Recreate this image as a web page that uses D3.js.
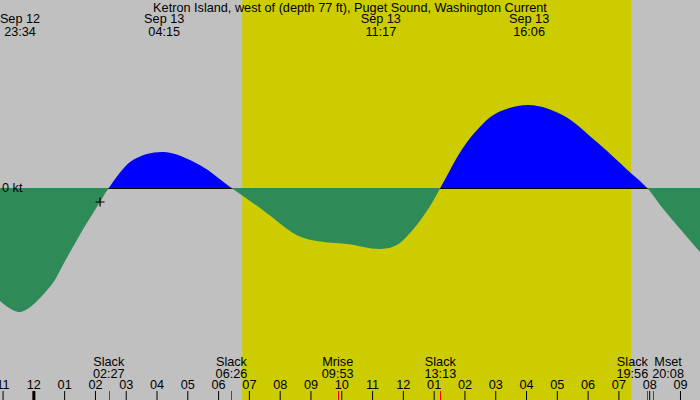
<!DOCTYPE html>
<html>
<head>
<meta charset="utf-8">
<script src="https://cdn.jsdelivr.net/npm/d3@7"></script>
<style>
  body { margin: 0; background: #c0c0c0; }
  svg { display: block; font-family: "Liberation Sans", Arial, sans-serif; font-size: 12.7px; }
</style>
</head>
<body>
<div id="chart"></div>
<script>
// current speed in knots (flood > 0, ebb < 0)
const flowTimes = [
  "2024-09-12 22:55", "2024-09-12 23:34", "2024-09-13 00:32", "2024-09-13 01:05",
  "2024-09-13 01:36", "2024-09-13 02:10", "2024-09-13 02:27", "2024-09-13 03:14",
  "2024-09-13 04:15", "2024-09-13 05:24", "2024-09-13 06:26", "2024-09-13 07:27",
  "2024-09-13 08:33", "2024-09-13 09:12", "2024-09-13 10:11", "2024-09-13 11:17",
  "2024-09-13 11:48", "2024-09-13 12:19", "2024-09-13 12:52", "2024-09-13 13:13",
  "2024-09-13 13:57", "2024-09-13 14:30", "2024-09-13 15:03", "2024-09-13 16:06",
  "2024-09-13 17:11", "2024-09-13 18:18", "2024-09-13 19:22", "2024-09-13 19:56",
  "2024-09-13 20:26", "2024-09-13 21:39"
];
const flowKnots = [
  -2.26, -2.48, -1.98, -1.40,
  -0.84, -0.28, 0, 0.56,
  0.72, 0.46, 0, -0.44,
  -0.94, -1.06, -1.12, -1.22,
  -1.14, -0.84, -0.38, 0,
  0.80, 1.22, 1.50, 1.66,
  1.46, 0.92, 0.32, 0,
  -0.40, -1.28
];

const maxTimes = ["2024-09-12 23:34", "2024-09-13 04:15", "2024-09-13 11:17", "2024-09-13 16:06"];
const eventNames = ["Slack", "Slack", "Mrise", "Slack", "Slack", "Mset"];
const eventTimes = ["2024-09-13 02:27", "2024-09-13 06:26", "2024-09-13 09:53",
                    "2024-09-13 13:13", "2024-09-13 19:56", "2024-09-13 20:08"];
const sunrise = "2024-09-13 06:47";
const sunset = "2024-09-13 19:25";
const nowTime = "2024-09-13 02:10";
const nowKnots = -0.28;
const title = "Ketron Island, west of (depth 77 ft), Puget Sound, Washington Current";

const width = 700, height = 400;
const parse = d3.timeParse("%Y-%m-%d %H:%M");
const fmtDay = d3.timeFormat("%b %d");
const fmtTime = d3.timeFormat("%H:%M");

const flow = flowTimes.map((t, i) => ({ t: parse(t), v: flowKnots[i] }));

const x = d3.scaleTime()
    .domain([parse("2024-09-12 22:55"), parse("2024-09-13 21:39")])
    .range([0, width]);
const y = d3.scaleLinear().domain([-2.5, 2.5]).range([313, 63]);

const svg = d3.select("#chart").append("svg")
    .attr("width", width)
    .attr("height", height);

svg.append("rect")
    .attr("width", width).attr("height", height)
    .attr("fill", "#c0c0c0");

// daylight
svg.append("rect")
    .attr("x", x(parse(sunrise)))
    .attr("y", 0)
    .attr("width", x(parse(sunset)) - x(parse(sunrise)))
    .attr("height", height)
    .attr("fill", "#cccc00");

// zero line (ebb fill is painted over it)
svg.append("line")
    .attr("x1", 0).attr("x2", width)
    .attr("y1", y(0) + 0.5).attr("y2", y(0) + 0.5)
    .attr("stroke", "#000");

// one smooth curve, split at zero by two clip rects
const defs = svg.append("defs");
defs.append("clipPath").attr("id", "above")
    .append("rect").attr("width", width).attr("height", y(0));
defs.append("clipPath").attr("id", "below")
    .append("rect").attr("y", y(0)).attr("width", width).attr("height", height - y(0));

const area = d3.area()
    .x(d => x(d.t))
    .y0(y(0))
    .y1(d => y(d.v))
    .curve(d3.curveCatmullRom.alpha(0.5));

svg.append("path").attr("d", area(flow)).attr("fill", "#0000ff").attr("clip-path", "url(#above)");
svg.append("path").attr("d", area(flow)).attr("fill", "#2e8b57").attr("clip-path", "url(#below)");

svg.append("text")
    .attr("x", 2).attr("y", y(0) + 4)
    .text("0 kt");

// title
svg.append("text")
    .attr("x", width / 2).attr("y", 12)
    .attr("text-anchor", "middle")
    .text(title);

// max current labels
const maxLab = svg.selectAll(".maxlab")
    .data(maxTimes.map(parse))
    .join("g")
    .attr("class", "maxlab")
    .attr("transform", d => `translate(${x(d)},0)`);
maxLab.append("text").attr("y", 23).attr("text-anchor", "middle").text(d => fmtDay(d));
maxLab.append("text").attr("y", 36).attr("text-anchor", "middle").text(d => fmtTime(d));

// hour axis along the bottom
const axis = d3.axisTop(x)
    .ticks(d3.timeHour.every(1))
    .tickFormat(d3.timeFormat("%I"))
    .tickSize(9)
    .tickPadding(2);

const ax = svg.append("g")
    .attr("transform", `translate(0,${height})`)
    .call(axis);
ax.select(".domain").remove();
ax.selectAll("text")
    .attr("font-family", "Liberation Sans, Arial, sans-serif")
    .attr("font-size", 12.7)
    .attr("fill", "#000");
ax.selectAll(".tick line")
    .attr("stroke", "#000")
    .attr("stroke-width", d => d.getHours() === 0 ? 3 : 1);

// event ticks and labels
const events = eventTimes.map((t, i) => ({ t: parse(t), name: eventNames[i] }));

svg.selectAll(".evtick")
    .data(events)
    .join("line")
    .attr("class", "evtick")
    .attr("x1", d => Math.round(x(d.t)) + 0.5)
    .attr("x2", d => Math.round(x(d.t)) + 0.5)
    .attr("y1", height - 9).attr("y2", height)
    .attr("stroke", "#ff0000");

const evLab = svg.selectAll(".evlab")
    .data(events)
    .join("g")
    .attr("class", "evlab")
    .attr("transform", d => `translate(${x(d.t)},0)`);
evLab.append("text").attr("class", "l1").attr("y", 366).text(d => d.name);
evLab.append("text").attr("class", "l2").attr("y", 378).text(d => fmtTime(d.t));

// centre each label, push neighbours apart where they would overlap
const boxes = [];
evLab.each(function (d) {
    const w = Math.max(...Array.from(this.querySelectorAll("text")).map(n => n.getComputedTextLength()));
    boxes.push({ node: this, cx: x(d.t), w: w, left: x(d.t) - w / 2 });
});
for (let i = 1; i < boxes.length; i++) {
    const a = boxes[i - 1], b = boxes[i];
    if (a.left + a.w + 4 > b.left) {
        const mid = (a.cx + b.cx) / 2;
        a.left = mid - 2 - a.w;
        b.left = mid + 2;
    }
}
boxes.forEach(b => {
    d3.select(b.node).selectAll("text")
        .attr("x", function () { return b.left - b.cx + (b.w - this.getComputedTextLength()) / 2; });
});

// present time marker
const nx = x(parse(nowTime)), ny = y(nowKnots);
svg.append("path")
    .attr("d", `M${nx - 4.5},${ny}H${nx + 4.5}M${nx},${ny - 4.5}V${ny + 4.5}`)
    .attr("stroke", "#000")
    .attr("stroke-width", 1.2);
</script>
</body>
</html>
